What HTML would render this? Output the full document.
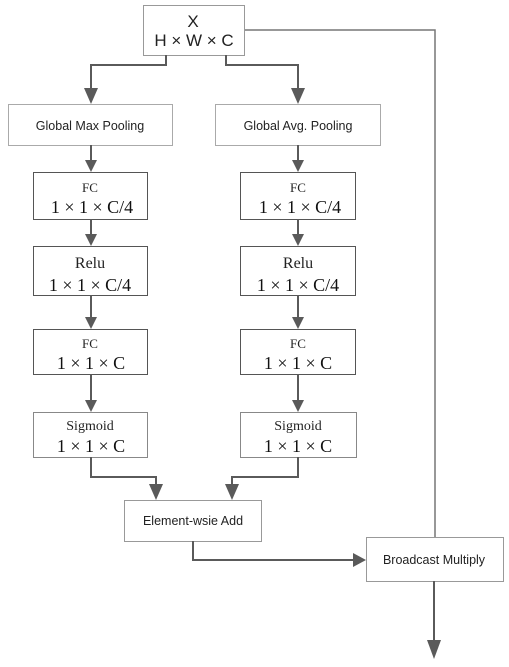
<!DOCTYPE html>
<html><head><meta charset="utf-8"><style>
html,body{margin:0;padding:0;background:#fff;}
svg{display:block;}
.s{font-family:"Liberation Sans",sans-serif;font-size:12.5px;fill:#222;}
.m{font-family:"Liberation Serif",serif;font-size:18px;fill:#111;}
.f{font-family:"Liberation Serif",serif;font-size:13px;fill:#222;}
.r{font-family:"Liberation Serif",serif;font-size:16px;fill:#222;}
</style></head><body>
<svg width="509" height="667" viewBox="0 0 509 667" xmlns="http://www.w3.org/2000/svg">
<defs>
<marker id="a" markerWidth="8" markerHeight="8" refX="6" refY="4" orient="auto" markerUnits="userSpaceOnUse" viewBox="0 0 8 8"></marker>
</defs>
<g fill="#fff" stroke-width="1">
<rect x="143.5" y="5.5" width="101" height="50" stroke="#999"/>
<rect x="8.5" y="104.5" width="164" height="41" stroke="#aaa"/>
<rect x="215.5" y="104.5" width="165" height="41" stroke="#aaa"/>
<rect x="33.5" y="172.5" width="114" height="47" stroke="#555"/>
<rect x="240.5" y="172.5" width="115" height="47" stroke="#555"/>
<rect x="33.5" y="246.5" width="114" height="49" stroke="#555"/>
<rect x="240.5" y="246.5" width="115" height="49" stroke="#555"/>
<rect x="33.5" y="329.5" width="114" height="45" stroke="#555"/>
<rect x="240.5" y="329.5" width="115" height="45" stroke="#555"/>
<rect x="33.5" y="412.5" width="114" height="45" stroke="#888"/>
<rect x="240.5" y="412.5" width="116" height="45" stroke="#888"/>
<rect x="124.5" y="500.5" width="137" height="41" stroke="#999"/>
<rect x="366.5" y="537.5" width="137" height="44" stroke="#999"/>
</g>
<g fill="none" stroke="#5a5a5a" stroke-width="2">
<polyline points="166,55 166,65 91,65 91,92"/>
<polyline points="226,55 226,65 298,65 298,92"/>
<line x1="91" y1="145" x2="91" y2="163"/>
<line x1="298" y1="145" x2="298" y2="163"/>
<line x1="91" y1="219" x2="91" y2="237"/>
<line x1="298" y1="219" x2="298" y2="237"/>
<line x1="91" y1="295" x2="91" y2="320"/>
<line x1="298" y1="295" x2="298" y2="320"/>
<line x1="91" y1="374" x2="91" y2="403"/>
<line x1="298" y1="374" x2="298" y2="403"/>
<polyline points="91,457 91,477 156,477 156,488"/>
<polyline points="298,457 298,477 232,477 232,488"/>
<polyline points="193,541 193,560 355,560"/>
<line x1="434" y1="581" x2="434" y2="645"/>
</g>
<polyline points="245,30 435,30 435,537" fill="none" stroke="#777" stroke-width="1.5"/>
<g fill="#5a5a5a">
<polygon points="84,88 98,88 91,104"/>
<polygon points="291,88 305,88 298,104"/>
<polygon points="85,160 97,160 91,172"/>
<polygon points="292,160 304,160 298,172"/>
<polygon points="85,234 97,234 91,246"/>
<polygon points="292,234 304,234 298,246"/>
<polygon points="85,317 97,317 91,329"/>
<polygon points="292,317 304,317 298,329"/>
<polygon points="85,400 97,400 91,412"/>
<polygon points="292,400 304,400 298,412"/>
<polygon points="149,484 163,484 156,500"/>
<polygon points="225,484 239,484 232,500"/>
<polygon points="353,553 353,567 366,560"/>
<polygon points="427,640 441,640 434,659"/>
</g>
<text x="193" y="27" text-anchor="middle" class="s" style="font-size:17px">X</text>
<text x="194" y="46" text-anchor="middle" class="s" style="font-size:17px">H × W × C</text>
<text x="90" y="130" text-anchor="middle" class="s">Global Max Pooling</text>
<text x="298" y="130" text-anchor="middle" class="s">Global Avg. Pooling</text>
<text x="90" y="192" text-anchor="middle" class="f">FC</text>
<text x="92" y="213" text-anchor="middle" class="m">1 × 1 × C/4</text>
<text x="298" y="192" text-anchor="middle" class="f">FC</text>
<text x="300" y="213" text-anchor="middle" class="m">1 × 1 × C/4</text>
<text x="90" y="268" text-anchor="middle" class="r">Relu</text>
<text x="90" y="291" text-anchor="middle" class="m">1 × 1 × C/4</text>
<text x="298" y="268" text-anchor="middle" class="r">Relu</text>
<text x="298" y="291" text-anchor="middle" class="m">1 × 1 × C/4</text>
<text x="90" y="348" text-anchor="middle" class="f">FC</text>
<text x="91" y="369" text-anchor="middle" class="m">1 × 1 × C</text>
<text x="298" y="348" text-anchor="middle" class="f">FC</text>
<text x="298" y="369" text-anchor="middle" class="m">1 × 1 × C</text>
<text x="90" y="430" text-anchor="middle" class="r" style="font-size:14px">Sigmoid</text>
<text x="91" y="452" text-anchor="middle" class="m">1 × 1 × C</text>
<text x="298" y="430" text-anchor="middle" class="r" style="font-size:14px">Sigmoid</text>
<text x="298" y="452" text-anchor="middle" class="m">1 × 1 × C</text>
<text x="193" y="525" text-anchor="middle" class="s">Element-wsie Add</text>
<text x="434" y="564" text-anchor="middle" class="s">Broadcast Multiply</text>
</svg>
</body></html>
